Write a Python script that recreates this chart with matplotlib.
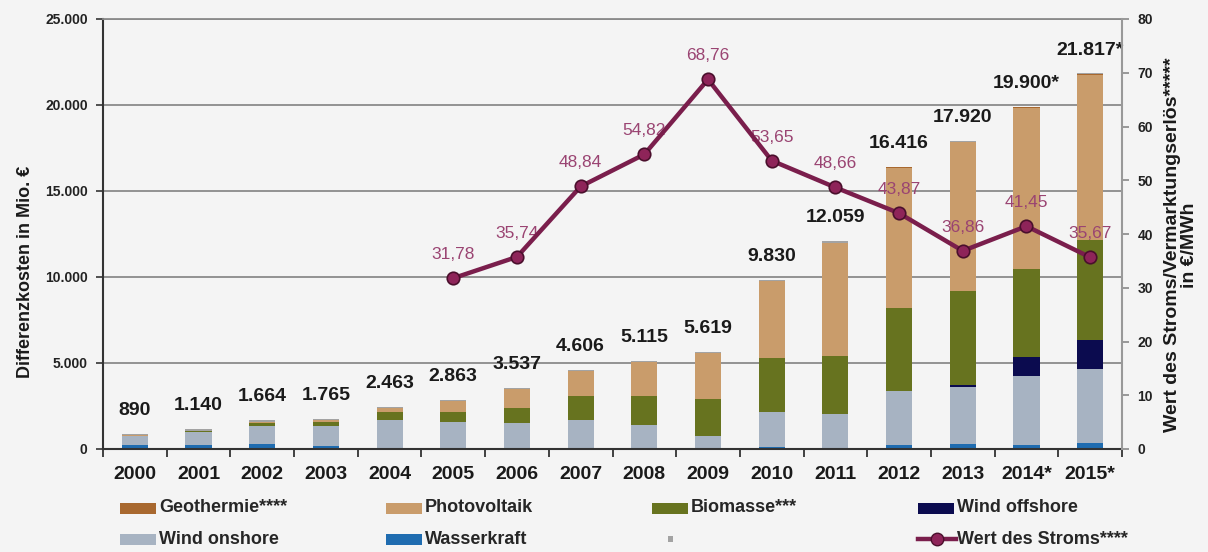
import matplotlib
matplotlib.use("Agg")
import matplotlib.pyplot as plt
import numpy as np
from matplotlib.patches import Rectangle
from matplotlib.lines import Line2D

plt.rcParams["font.family"] = ["Liberation Sans", "DejaVu Sans"]

# ---------------------------------------------------------------------------
# Data (Mio. EUR)
# ---------------------------------------------------------------------------
years = ["2000", "2001", "2002", "2003", "2004", "2005", "2006", "2007",
         "2008", "2009", "2010", "2011", "2012", "2013", "2014*", "2015*"]
totals = [890, 1140, 1664, 1765, 2463, 2863, 3537, 4606,
          5115, 5619, 9830, 12059, 16416, 17920, 19900, 21817]
total_labels = ["890", "1.140", "1.664", "1.765", "2.463", "2.863", "3.537", "4.606",
                "5.115", "5.619", "9.830", "12.059", "16.416", "17.920", "19.900*", "21.817*"]

wasserkraft = [250, 230, 290, 175, 60, 60, 80, 50, 40, 30, 130, 60, 230, 270, 230, 330]
wind_onshore = [510, 760, 1040, 1140, 1630, 1510, 1410, 1640, 1350, 730, 2000, 1970, 3140, 3315, 4010, 4320]
wind_offshore = [0, 0, 0, 0, 0, 0, 0, 0, 0, 0, 0, 10, 0, 115, 1120, 1690]
biomasse = [20, 40, 190, 240, 480, 600, 910, 1390, 1690, 2130, 3140, 3370, 4850, 5505, 5080, 5810]
photovoltaik = [20, 30, 60, 130, 230, 600, 1080, 1480, 2000, 2680, 4500, 6590, 8140, 8660, 9410, 9620]
geothermie = [0, 0, 0, 0, 0, 0, 0, 0, 1, 2, 3, 5, 8, 10, 12, 15]
gase = [90, 80, 84, 80, 63, 93, 57, 46, 35, 49, 60, 59, 56, 55, 50, 47]

strom_years = [5, 6, 7, 8, 9, 10, 11, 12, 13, 14, 15]
strom_wert = [31.78, 35.74, 48.84, 54.82, 68.76, 53.65, 48.66, 43.87, 36.86, 41.45, 35.67]
strom_labels = ["31,78", "35,74", "48,84", "54,82", "68,76", "53,65",
                "48,66", "43,87", "36,86", "41,45", "35,67"]

# ---------------------------------------------------------------------------
# Colours
# ---------------------------------------------------------------------------
BG = "#F4F4F4"
C_WASSER = "#1F6CB0"
C_ONSHORE = "#A7B3C2"
C_OFFSHORE = "#0B0B4F"
C_BIO = "#67731F"
C_PV = "#C99C6B"
C_GEO = "#A8682F"
C_GASE = "#A3A3A3"
C_LINE = "#7A1E4C"
C_LINE_TXT = "#9A4472"
GRID = "#8A8A8A"

W, H = 1208, 552
fig = plt.figure(figsize=(W / 100, H / 100), dpi=100, facecolor=BG)
ax = fig.add_axes([103 / W, 1 - 449 / H, (1122 - 103) / W, (449 - 19) / H])
ax.set_facecolor(BG)

x = np.arange(len(years))
bw = 0.41
stack = [(wasserkraft, C_WASSER), (wind_onshore, C_ONSHORE), (wind_offshore, C_OFFSHORE),
         (biomasse, C_BIO), (photovoltaik, C_PV), (geothermie, C_GEO), (gase, C_GASE)]
bottom = np.zeros(len(years))
for vals, col in stack:
    ax.bar(x, vals, bw, bottom=bottom, color=col, linewidth=0, zorder=2)
    bottom += np.array(vals, dtype=float)

for xi, t, lab in zip(x, totals, total_labels):
    ax.annotate(lab, (xi, t), xytext=(0, 17), textcoords="offset points",
                ha="center", va="center", fontsize=14, fontweight="bold", color="#1a1a1a")

ax.set_xlim(-0.5, len(years) - 0.5)
ax.set_ylim(0, 25000)
ax.set_yticks(np.arange(0, 25001, 5000))
ax.set_yticklabels(["0", "5.000", "10.000", "15.000", "20.000", "25.000"],
                   fontsize=10, fontweight="bold", color="#222222")
ax.yaxis.grid(True, color=GRID, linewidth=1.3, zorder=0)
ax.set_axisbelow(True)

ax.set_xticks(x)
ax.set_xticklabels(years, fontsize=14, fontweight="bold", color="#1a1a1a")
ax.set_xticks(np.arange(-0.5, len(years)), minor=True)
ax.tick_params(axis="x", which="major", length=0, pad=12)
ax.tick_params(axis="x", which="minor", length=6, width=1.3, color="#333333", direction="out")
ax.tick_params(axis="y", length=5, width=1.2, color="#333333", pad=6)

for side in ["left", "bottom"]:
    ax.spines[side].set_color("#333333")
    ax.spines[side].set_linewidth(1.5)
ax.spines["top"].set_color(GRID)
ax.spines["top"].set_linewidth(1.3)
ax.spines["right"].set_visible(False)

# ---------------------------------------------------------------------------
# Secondary axis: Wert des Stroms
# ---------------------------------------------------------------------------
ax2 = ax.twinx()
ax2.set_ylim(0, 80)
ax2.set_yticks(np.arange(0, 81, 10))
ax2.set_yticklabels([str(v) for v in range(0, 81, 10)], fontsize=10,
                    fontweight="bold", color="#222222")
ax2.tick_params(axis="y", length=5, width=1.2, color="#888888", pad=6)
for side in ["left", "top", "bottom"]:
    ax2.spines[side].set_visible(False)
ax2.spines["right"].set_color("#999999")
ax2.spines["right"].set_linewidth(1.5)

ax2.plot(strom_years, strom_wert, color=C_LINE, linewidth=3.2, marker="o",
         markersize=9, markerfacecolor="#8E2459", markeredgecolor="#4A0F2C",
         markeredgewidth=1.2, zorder=5)
for xi, v, lab in zip(strom_years, strom_wert, strom_labels):
    ax2.annotate(lab, (xi, v), xytext=(0, 17), textcoords="offset points",
                 ha="center", va="center", fontsize=12.5, color=C_LINE_TXT)

# Axis titles
fig.text(26 / W, 1 - 272 / H, "Differenzkosten in Mio. €", rotation=90,
         ha="center", va="center", fontsize=13, fontweight="bold", color="#1a1a1a")
fig.text(1181 / W, 1 - 245 / H, "Wert des Stroms/Vermarktungserlös*****\nin €/MWh",
         rotation=90, ha="center", va="center", multialignment="center",
         fontsize=14, fontweight="bold", color="#1a1a1a", linespacing=0.95)

# ---------------------------------------------------------------------------
# Legend (two rows, four columns, below the plot)
# ---------------------------------------------------------------------------
col_x = [120, 386, 652, 918]
row_y = [508, 539]
entries = [
    (0, 0, "patch", C_GEO, "Geothermie****"),
    (1, 0, "patch", C_PV, "Photovoltaik"),
    (2, 0, "patch", C_BIO, "Biomasse***"),
    (3, 0, "patch", C_OFFSHORE, "Wind offshore"),
    (0, 1, "patch", C_ONSHORE, "Wind onshore"),
    (1, 1, "patch", C_WASSER, "Wasserkraft"),
    (2, 1, "dot", C_GASE, ""),
    (3, 1, "line", C_LINE, "Wert des Stroms****"),
]
for ci, ri, kind, col, lab in entries:
    px, py = col_x[ci], row_y[ri]
    if kind == "patch":
        fig.add_artist(Rectangle((px / W, 1 - (py + 5.5) / H), 36 / W, 11 / H,
                                 transform=fig.transFigure, color=col, linewidth=0))
    elif kind == "dot":
        fig.add_artist(Rectangle(((px + 16) / W, 1 - (py + 3) / H), 5 / W, 6 / H,
                                 transform=fig.transFigure, color=col, linewidth=0))
    else:
        fig.add_artist(Line2D([px / W, (px + 38) / W], [1 - py / H, 1 - py / H],
                              transform=fig.transFigure, color=col, linewidth=3.2))
        fig.add_artist(Line2D([(px + 19) / W], [1 - py / H], transform=fig.transFigure,
                              marker="o", markersize=9, markerfacecolor="#8E2459",
                              markeredgecolor="#4A0F2C", linewidth=0))
    if lab:
        fig.text((px + 39) / W, 1 - py / H, lab, ha="left", va="center",
                 fontsize=13, fontweight="bold", color="#262626")

fig.savefig("out.png", dpi=100, facecolor=BG)
